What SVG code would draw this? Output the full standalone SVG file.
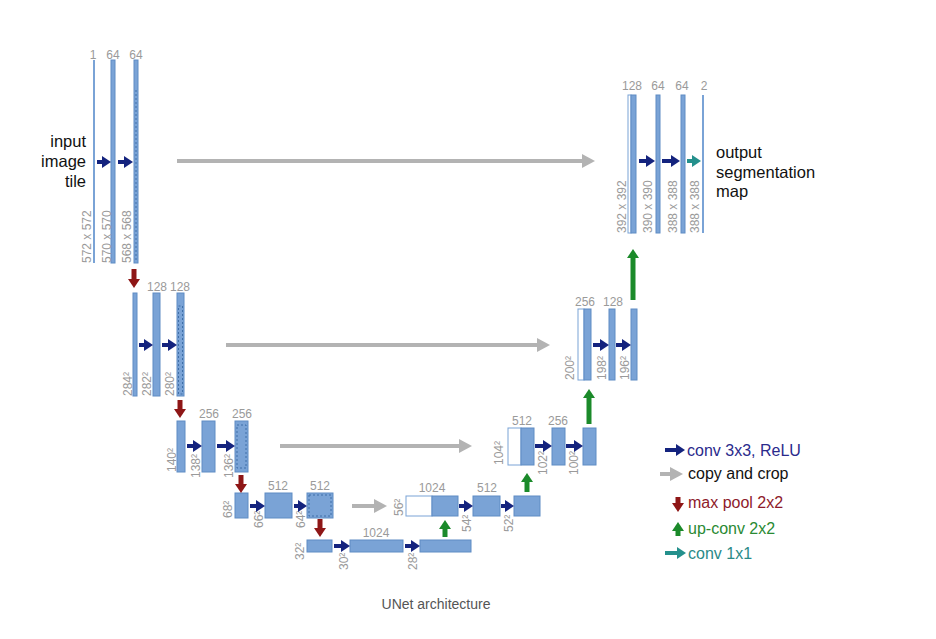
<svg xmlns="http://www.w3.org/2000/svg" width="936" height="639" viewBox="0 0 936 639">
<defs>
<marker id="hb" markerUnits="userSpaceOnUse" markerWidth="10" markerHeight="12" refX="0" refY="6" orient="auto"><path d="M0,0 L9,6 L0,12 Z" fill="#14237e"/></marker>
<marker id="hg" markerUnits="userSpaceOnUse" markerWidth="14" markerHeight="14" refX="0" refY="7" orient="auto"><path d="M0,0 L13,7 L0,14 Z" fill="#b3b3b3"/></marker>
<marker id="hr" markerUnits="userSpaceOnUse" markerWidth="10" markerHeight="12" refX="0" refY="6" orient="auto"><path d="M0,0 L9,6 L0,12 Z" fill="#8e1616"/></marker>
<marker id="hgr" markerUnits="userSpaceOnUse" markerWidth="10" markerHeight="12" refX="0" refY="6" orient="auto"><path d="M0,0 L9,6 L0,12 Z" fill="#1b8a2a"/></marker>
<marker id="ht" markerUnits="userSpaceOnUse" markerWidth="10" markerHeight="12" refX="0" refY="6" orient="auto"><path d="M0,0 L9,6 L0,12 Z" fill="#24908c"/></marker>
</defs>
<style>
.bar{fill:#7aa3d6;stroke:#5f8cc4;stroke-width:1}
.wbox{fill:#ffffff;stroke:#7aa3d6;stroke-width:1}
.dot{fill:none;stroke:#3f6fa8;stroke-width:1;stroke-dasharray:2,2}
.thin{stroke:#7aa3d6;stroke-width:2}
.lbl{font-family:"Liberation Sans",Arial,sans-serif;font-size:12px;fill:#9a9a9a}
.big{font-family:"Liberation Sans",Arial,sans-serif;font-size:16.5px;fill:#111}
.leg{font-family:"Liberation Sans",Arial,sans-serif;font-size:16px}
.ab{stroke:#14237e;stroke-width:4;marker-end:url(#hb)}
.ag{stroke:#b3b3b3;stroke-width:4;marker-end:url(#hg)}
.ar{stroke:#8e1616;stroke-width:5;marker-end:url(#hr)}
.agr{stroke:#1b8a2a;stroke-width:5;marker-end:url(#hgr)}
.at{stroke:#24908c;stroke-width:4;marker-end:url(#ht)}
.cap{font-family:"Liberation Sans",Arial,sans-serif;font-size:14px;fill:#555}
</style>

<!-- Level 1 contracting -->
<g id="l1_in">
<line class="thin" x1="94" y1="60" x2="94" y2="263"/>
<text class="lbl" x="93" y="59" text-anchor="middle">1</text>
<text class="lbl" transform="translate(91,263) rotate(-90)">572 x 572</text>
</g>
<g id="l1_c1">
<rect class="bar" x="111" y="60" width="4" height="203"/>
<text class="lbl" x="113" y="59" text-anchor="middle">64</text>
<text class="lbl" transform="translate(111,263) rotate(-90)">570 x 570</text>
</g>
<g id="l1_c2">
<rect class="bar" x="134" y="60" width="4" height="203"/>
<line class="dot" x1="136" y1="90" x2="136" y2="262"/>
<text class="lbl" x="136" y="59" text-anchor="middle">64</text>
<text class="lbl" transform="translate(131,263) rotate(-90)">568 x 568</text>
</g>
<g id="input_label">
<text class="big" x="86" y="147" text-anchor="end">input</text>
<text class="big" x="86" y="167" text-anchor="end">image</text>
<text class="big" x="86" y="187" text-anchor="end">tile</text>
</g>

<!-- Level 2 contracting -->
<g id="l2_c0">
<rect class="bar" x="133" y="293" width="4" height="103"/>
<text class="lbl" transform="translate(132,396) rotate(-90)">284²</text>
</g>
<g id="l2_c1">
<rect class="bar" x="153" y="293" width="7" height="103"/>
<text class="lbl" x="157" y="291" text-anchor="middle">128</text>
<text class="lbl" transform="translate(151,396) rotate(-90)">282²</text>
</g>
<g id="l2_c2">
<rect class="bar" x="177" y="293" width="7" height="103"/>
<rect class="dot" x="178.5" y="306" width="4" height="88"/>
<text class="lbl" x="180" y="291" text-anchor="middle">128</text>
<text class="lbl" transform="translate(174,396) rotate(-90)">280²</text>
</g>

<!-- Level 3 contracting -->
<g id="l3_c0">
<rect class="bar" x="177" y="421" width="8" height="51"/>
<text class="lbl" transform="translate(176,472) rotate(-90)">140²</text>
</g>
<g id="l3_c1">
<rect class="bar" x="202" y="421" width="13" height="51"/>
<text class="lbl" x="209" y="418" text-anchor="middle">256</text>
<text class="lbl" transform="translate(200,478) rotate(-90)">138²</text>
</g>
<g id="l3_c2">
<rect class="bar" x="235" y="421" width="13" height="51"/>
<rect class="dot" x="237" y="425" width="9" height="43"/>
<text class="lbl" x="242" y="418" text-anchor="middle">256</text>
<text class="lbl" transform="translate(233,478) rotate(-90)">136²</text>
</g>

<!-- Level 4 contracting -->
<g id="l4_c0">
<rect class="bar" x="235" y="493" width="13" height="25"/>
<text class="lbl" transform="translate(232,518) rotate(-90)">68²</text>
</g>
<g id="l4_c1">
<rect class="bar" x="265" y="493" width="27" height="25"/>
<text class="lbl" x="278" y="490" text-anchor="middle">512</text>
<text class="lbl" transform="translate(263,528) rotate(-90)">66²</text>
</g>
<g id="l4_c2">
<rect class="bar" x="307" y="493" width="26" height="25"/>
<rect class="dot" x="309" y="495" width="22" height="21"/>
<text class="lbl" x="320" y="490" text-anchor="middle">512</text>
<text class="lbl" transform="translate(305,528) rotate(-90)">64²</text>
</g>

<!-- Level 5 bottleneck -->
<g id="l5_c0">
<rect class="bar" x="307" y="540" width="25" height="12"/>
<text class="lbl" transform="translate(304,560) rotate(-90)">32²</text>
</g>
<g id="l5_c1">
<rect class="bar" x="350" y="540" width="53" height="12"/>
<text class="lbl" x="376" y="537" text-anchor="middle">1024</text>
<text class="lbl" transform="translate(348,570) rotate(-90)">30²</text>
</g>
<g id="l5_c2">
<rect class="bar" x="420" y="540" width="51" height="12"/>
<text class="lbl" transform="translate(417,570) rotate(-90)">28²</text>
</g>

<!-- Level 4 expanding -->
<g id="l4_u0">
<rect class="wbox" x="406" y="496" width="26" height="20"/>
<rect class="bar" x="432" y="496" width="26" height="20"/>
<text class="lbl" x="432" y="492" text-anchor="middle">1024</text>
<text class="lbl" transform="translate(403,516) rotate(-90)">56²</text>
</g>
<g id="l4_u1">
<rect class="bar" x="473" y="496" width="27" height="20"/>
<text class="lbl" x="487" y="492" text-anchor="middle">512</text>
<text class="lbl" transform="translate(471,532) rotate(-90)">54²</text>
</g>
<g id="l4_u2">
<rect class="bar" x="514" y="496" width="26" height="20"/>
<text class="lbl" transform="translate(513,532) rotate(-90)">52²</text>
</g>

<!-- Level 3 expanding -->
<g id="l3_u0">
<rect class="wbox" x="508" y="428" width="13" height="37"/>
<rect class="bar" x="521" y="428" width="13" height="37"/>
<text class="lbl" x="522" y="425" text-anchor="middle">512</text>
<text class="lbl" transform="translate(503,465) rotate(-90)">104²</text>
</g>
<g id="l3_u1">
<rect class="bar" x="552" y="428" width="13" height="37"/>
<text class="lbl" x="558" y="425" text-anchor="middle">256</text>
<text class="lbl" transform="translate(547,475) rotate(-90)">102²</text>
</g>
<g id="l3_u2">
<rect class="bar" x="583" y="428" width="13" height="37"/>
<text class="lbl" transform="translate(578,475) rotate(-90)">100²</text>
</g>

<!-- Level 2 expanding -->
<g id="l2_u0">
<rect class="wbox" x="578" y="309" width="6" height="71"/>
<rect class="bar" x="584" y="309" width="7" height="71"/>
<text class="lbl" x="585" y="306" text-anchor="middle">256</text>
<text class="lbl" transform="translate(574,380) rotate(-90)">200²</text>
</g>
<g id="l2_u1">
<rect class="bar" x="609" y="309" width="6" height="71"/>
<text class="lbl" x="613" y="306" text-anchor="middle">128</text>
<text class="lbl" transform="translate(606,380) rotate(-90)">198²</text>
</g>
<g id="l2_u2">
<rect class="bar" x="631" y="309" width="6" height="71"/>
<text class="lbl" transform="translate(629,380) rotate(-90)">196²</text>
</g>

<!-- Level 1 expanding -->
<g id="l1_u0">
<rect class="wbox" x="628" y="95" width="3" height="138"/>
<rect class="bar" x="631" y="95" width="5" height="138"/>
<text class="lbl" x="632" y="90" text-anchor="middle">128</text>
<text class="lbl" transform="translate(626,233) rotate(-90)">392 x 392</text>
</g>
<g id="l1_u1">
<rect class="bar" x="656" y="95" width="4" height="138"/>
<text class="lbl" x="658" y="90" text-anchor="middle">64</text>
<text class="lbl" transform="translate(652,233) rotate(-90)">390 x 390</text>
</g>
<g id="l1_u2">
<rect class="bar" x="681" y="95" width="4" height="138"/>
<text class="lbl" x="682" y="90" text-anchor="middle">64</text>
<text class="lbl" transform="translate(677,233) rotate(-90)">388 x 388</text>
</g>
<g id="l1_out">
<line class="thin" x1="703" y1="95" x2="703" y2="233"/>
<text class="lbl" x="704" y="90" text-anchor="middle">2</text>
<text class="lbl" transform="translate(699,233) rotate(-90)">388 x 388</text>
</g>
<g id="output_label">
<text class="big" x="716" y="158">output</text>
<text class="big" x="716" y="178">segmentation</text>
<text class="big" x="716" y="197">map</text>
</g>

<!-- Connectors -->
<g id="connectors">
<!-- conv 3x3 -->
<line class="ab" x1="97" y1="162" x2="102" y2="162"/>
<line class="ab" x1="118" y1="162" x2="124" y2="162"/>
<line class="ab" x1="139" y1="345" x2="144" y2="345"/>
<line class="ab" x1="162" y1="345" x2="168" y2="345"/>
<line class="ab" x1="187" y1="446" x2="193" y2="446"/>
<line class="ab" x1="217" y1="446" x2="226" y2="446"/>
<line class="ab" x1="250" y1="506" x2="256" y2="506"/>
<line class="ab" x1="294" y1="506" x2="298" y2="506"/>
<line class="ab" x1="334" y1="546" x2="341" y2="546"/>
<line class="ab" x1="405" y1="546" x2="411" y2="546"/>
<line class="ab" x1="459" y1="506" x2="464" y2="506"/>
<line class="ab" x1="501" y1="506" x2="505" y2="506"/>
<line class="ab" x1="535" y1="446" x2="543" y2="446"/>
<line class="ab" x1="566" y1="446" x2="574" y2="446"/>
<line class="ab" x1="593" y1="345" x2="600" y2="345"/>
<line class="ab" x1="616" y1="345" x2="622" y2="345"/>
<line class="ab" x1="639" y1="161" x2="646" y2="161"/>
<line class="ab" x1="662" y1="161" x2="671" y2="161"/>
<!-- conv 1x1 -->
<line class="at" x1="687" y1="161" x2="692" y2="161"/>
<!-- copy and crop -->
<line class="ag" x1="177" y1="161" x2="582" y2="161"/>
<line class="ag" x1="226" y1="345" x2="537" y2="345"/>
<line class="ag" x1="280" y1="446" x2="459" y2="446"/>
<line class="ag" x1="352" y1="506" x2="374" y2="506"/>
<!-- max pool -->
<line class="ar" x1="134" y1="269" x2="134" y2="279"/>
<line class="ar" x1="180" y1="400" x2="180" y2="409"/>
<line class="ar" x1="241" y1="475" x2="241" y2="484"/>
<line class="ar" x1="320" y1="519" x2="320" y2="528"/>
<!-- up-conv -->
<line class="agr" x1="445" y1="537" x2="445" y2="529"/>
<line class="agr" x1="527" y1="492" x2="527" y2="482"/>
<line class="agr" x1="589" y1="424" x2="589" y2="398"/>
<line class="agr" x1="633" y1="300" x2="633" y2="258"/>
</g>

<!-- Legend -->
<g id="legend">
<line class="ab" x1="665" y1="450" x2="676" y2="450"/>
<text class="leg" x="687" y="456" fill="#2a2a8c">conv 3x3, ReLU</text>
<line class="ag" x1="660" y1="474" x2="670" y2="474"/>
<text class="leg" x="688" y="479" fill="#111">copy and crop</text>
<line class="ar" x1="678" y1="497" x2="678" y2="503"/>
<text class="leg" x="688" y="508" fill="#8e1a2a">max pool 2x2</text>
<line class="agr" x1="678" y1="536" x2="678" y2="531"/>
<text class="leg" x="688" y="534" fill="#2a8a33">up-conv 2x2</text>
<line class="at" x1="665" y1="553" x2="677" y2="553"/>
<text class="leg" x="688" y="559" fill="#2a8a88">conv 1x1</text>
</g>

<text class="cap" x="436" y="609" text-anchor="middle">UNet architecture</text>
</svg>
